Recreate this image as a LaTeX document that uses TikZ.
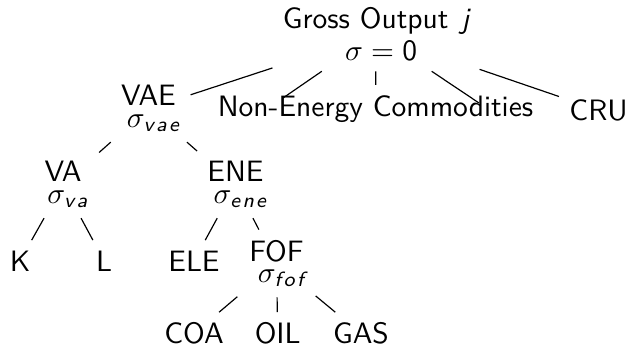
\documentclass[tikz,border=0pt]{standalone}
\usepackage{amsmath}
\newcommand\subsf[1]{\text{\sffamily\itshape #1}}
\newcommand\sgap{\kern0.8pt}
\newcommand\sigline{\hspace*{3.4pt}}
\begin{document}
\begin{tikzpicture}[x=0.339pt,y=-0.339pt,
  every node/.style={font=\sffamily, align=center},
  kid/.style={font=\sffamily\fontsize{10}{7.2}\selectfont},
  rootnode/.style={font=\sffamily\fontsize{10}{10.85}\selectfont},
  link/.style={line width=0.4pt, draw=black}]
\useasboundingbox (0,0) rectangle (631,356);
\node[rootnode] (root) at (376,34) {Gross Output\kern4.3pt{\itshape j}\\\sigline$\sigma = \text{0}$};
\node[kid] (vae) at (148.5,108.6) {VAE\\\sigline$\sigma_{\subsf{v\sgap a\sgap e}}$};
\node (nec) at (375.5,108.7) {Non-Energy Commodities};
\node (cru) at (598.5,110) {CRU};
\node[kid] (va) at (63,184.6) {VA\\\sigline$\sigma_{\subsf{v\sgap a}}$};
\node[kid] (ene) at (235.5,184.6) {ENE\\\sigline$\sigma_{\subsf{e\sgap n\sgap e}}$};
\node (k) at (20,260.8) {K};
\node (l) at (104,260.8) {L};
\node (ele) at (194,260.8) {ELE};
\node[kid] (fof) at (276.5,263.5) {FOF\\\sigline$\sigma_{\subsf{f\sgap o\sgap f}}$};
\node (coa) at (194,333.5) {COA};
\node (oil) at (277.7,333.5) {OIL};
\node (gas) at (361,333.5) {GAS};
\coordinate (e2) at (283,98);
\coordinate (e4) at (479,103);
\draw[link] (root) -- (vae);
\draw[link] (root) -- (e2);
\draw[link] (root) -- (nec);
\draw[link] (root) -- (e4);
\draw[link] (root) -- (cru);
\draw[link] (vae) -- (va);
\draw[link] (vae) -- (ene);
\draw[link] (va) -- (k);
\draw[link] (va) -- (l);
\draw[link] (ene) -- (ele);
\draw[link] (ene) -- (fof);
\draw[link] (fof) -- (coa);
\draw[link] (fof) -- (oil);
\draw[link] (fof) -- (gas);
\end{tikzpicture}
\end{document}
